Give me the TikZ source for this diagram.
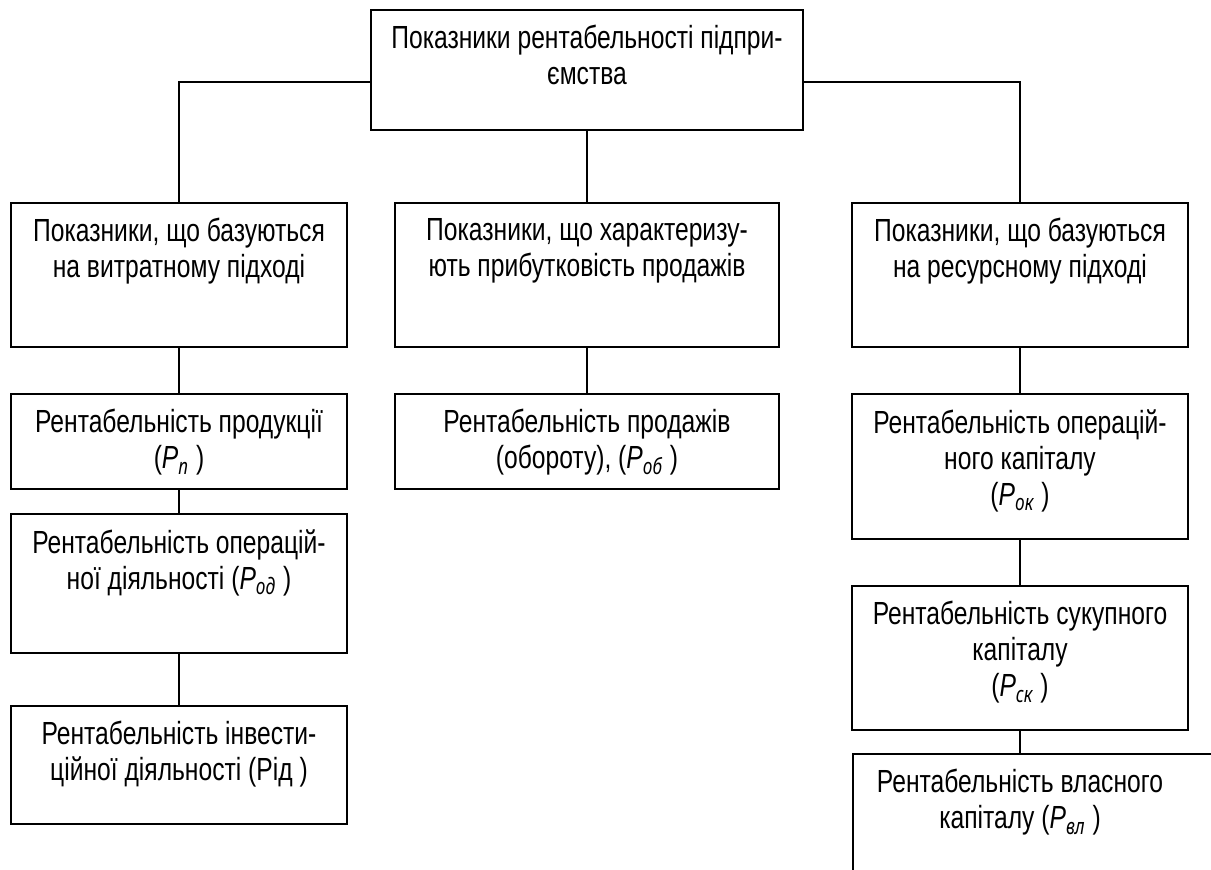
\documentclass[tikz,border=0pt]{standalone}
\usepackage{fontspec}
\setmainfont{Liberation Sans}[FakeStretch=0.77]
\newfontfamily\subfont{Noto Sans}[FakeStretch=0.77]
\usetikzlibrary{positioning}
\newcommand{\pidx}[1]{\textit{P}\textsubscript{\subfont\itshape #1}}

\begin{document}
\begin{tikzpicture}[
  x=0.5pt, y=-0.5pt,
  ind/.style={draw, line width=0.9pt, anchor=north, inner sep=0pt,
              minimum width=168pt},
  lbl/.style={align=center, inner sep=0pt,
              font=\fontsize{16pt}{18pt}\selectfont},
  link/.style={line width=0.7pt}
]
\useasboundingbox (0,0) rectangle (1211,869);
\clip (0,0) rectangle (1211,869);

% boxes
\node[ind, minimum width=216pt, minimum height=60pt] (top) at (587,9) {};
\node[ind, minimum height=72pt] (costs) at (179,202) {};
\node[ind, minimum width=192pt, minimum height=72pt] (sales) at (587,202) {};
\node[ind, minimum height=72pt] (res) at (1020,202) {};

\node[ind, minimum height=47.5pt] (prod) at (179,393) {};
\node[ind, minimum height=69.5pt] (oper) at (179,513) {};
\node[ind, minimum height=59pt] (inv) at (179,705) {};

\node[ind, minimum width=192pt, minimum height=47.5pt] (turn) at (587,393) {};

\node[ind, minimum height=72.5pt] (opcap) at (1020,393) {};
\node[ind, minimum height=72pt] (totcap) at (1020,585) {};
\node[ind, anchor=north west, minimum width=194pt, minimum height=72pt] (own) at (852,753) {};

% texts
\node[lbl, below=8pt] at (top.north) {Показники рентабельності підпри-\\ємства};
\node[lbl, below=8pt] at (costs.north) {Показники, що базуються\\на витратному підході};
\node[lbl, below=8pt] at (sales.north) {Показники, що характеризу-\\ють прибутковість продажів};
\node[lbl, below=8pt] at (res.north) {Показники, що базуються\\на ресурсному підході};
\node[lbl, below=8pt] at (prod.north) {Рентабельність продукції\\(\pidx{п} )};
\node[lbl, below=8pt] at (oper.north) {Рентабельність операцій-\\ної діяльності (\pidx{од} )};
\node[lbl, below=8pt] at (inv.north) {Рентабельність інвести-\\ційної діяльності (Рід )};
\node[lbl, below=8pt] at (turn.north) {Рентабельність продажів\\(обороту), (\pidx{об} )};
\node[lbl, below=8pt] at (opcap.north) {Рентабельність операцій-\\ного капіталу\\(\pidx{ок} )};
\node[lbl, below=8pt] at (totcap.north) {Рентабельність сукупного\\капіталу\\(\pidx{ск} )};
\node[lbl, below=8pt] at (totcap.south |- own.north) {Рентабельність власного\\капіталу (\pidx{вл} )};

% connectors
\draw[link] ([yshift=-6pt]top.west) -| (costs.north);
\draw[link] (top.south) -- (sales.north);
\draw[link] ([yshift=-6pt]top.east) -| (res.north);
\draw[link] (costs.south) -- (prod.north);
\draw[link] (prod.south) -- (oper.north);
\draw[link] (oper.south) -- (inv.north);
\draw[link] (sales.south) -- (turn.north);
\draw[link] (res.south) -- (opcap.north);
\draw[link] (opcap.south) -- (totcap.north);
\draw[link] (totcap.south) -- (totcap.south |- own.north);
\end{tikzpicture}
\end{document}
